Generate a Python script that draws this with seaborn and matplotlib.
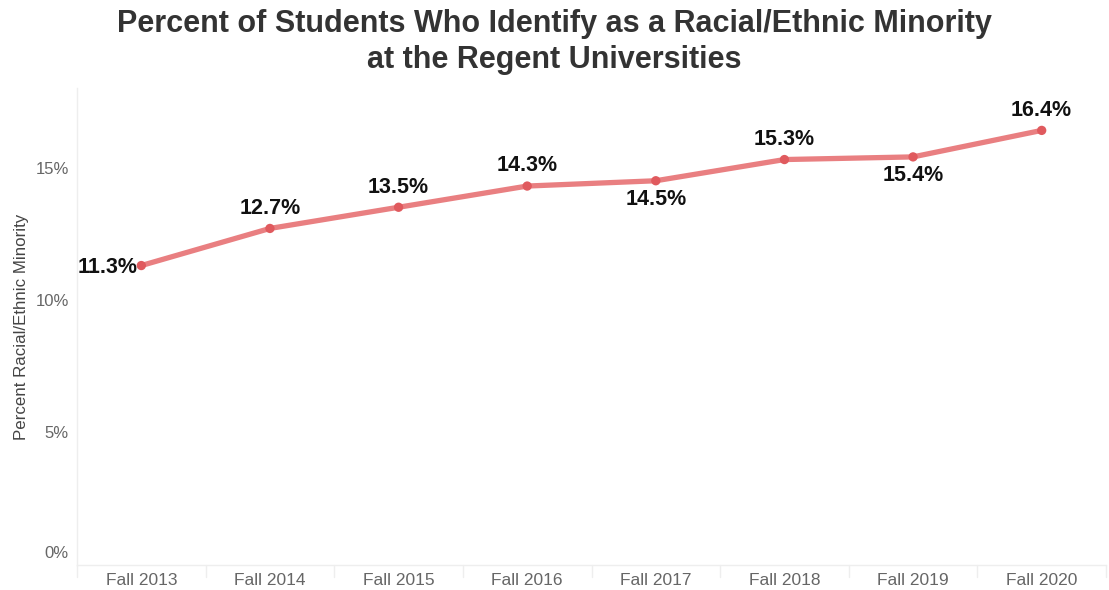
import matplotlib
matplotlib.use("Agg")
import matplotlib.pyplot as plt
import matplotlib.transforms as mtransforms
import seaborn as sns
import pandas as pd

years = ["Fall 2013", "Fall 2014", "Fall 2015", "Fall 2016", "Fall 2017", "Fall 2018", "Fall 2019", "Fall 2020"]
values = [11.3, 12.7, 13.5, 14.3, 14.5, 15.3, 15.4, 16.4]
label_pos = ["left", "above", "above", "above", "below", "above", "below", "above"]
yticks = [0, 5, 10, 15]

sns.set_theme(style="white")
plt.rcParams['font.family'] = ['Liberation Sans', 'DejaVu Sans']

df = pd.DataFrame({"year": years, "value": values})
df["x"] = range(len(years))

fig = plt.figure(figsize=(11.09, 5.90), dpi=100)
ax = fig.add_axes([77/1109, 1 - 565/590, (1106 - 77)/1109, (565 - 88)/590])

sns.lineplot(data=df, x="x", y="value", ax=ax, color="#e8787a", linewidth=3.8, alpha=0.95)
sns.scatterplot(data=df, x="x", y="value", ax=ax, color="#e05a5e", s=45, edgecolor="none", zorder=5)

for i, (v, p) in enumerate(zip(values, label_pos)):
    txt = f"{v:.1f}%"
    if p == "above":
        ax.annotate(txt, (i, v), xytext=(0, 7), textcoords="offset points", ha="center", va="bottom",
                    fontsize=15.5, fontweight="bold", color="#111111")
    elif p == "below":
        ax.annotate(txt, (i, v), xytext=(0, -6), textcoords="offset points", ha="center", va="top",
                    fontsize=15.5, fontweight="bold", color="#111111")
    else:
        ax.annotate(txt, (i, v), xytext=(-2.5, -1.5), textcoords="offset points", ha="right", va="center",
                    fontsize=15.5, fontweight="bold", color="#111111")

ax.set_xlim(-0.5, len(years) - 0.5)
ax.set_ylim(0, 18.0)
ax.set_xticks(range(len(years)))
ax.set_xticklabels(years, fontsize=12.5, color="#666666")
ax.set_yticks(yticks)
ax.set_yticklabels([f"{t}%" for t in yticks], fontsize=12, color="#666666")
ax.tick_params(axis="x", length=0, pad=6)
ax.tick_params(axis="y", length=0, pad=6)
ax.set_xlabel("")
ax.set_ylabel("Percent Racial/Ethnic Minority", fontsize=12.2, color="#444444")
ax.yaxis.set_label_coords(-0.047, 0.5)

lab0 = ax.get_yticklabels()[0]
lab0.set_transform(lab0.get_transform() + mtransforms.ScaledTranslation(0, 9/72, fig.dpi_scale_trans))

for s in ["top", "right"]:
    ax.spines[s].set_visible(False)
for s in ["left", "bottom"]:
    ax.spines[s].set_color("#eeeeee")
    ax.spines[s].set_linewidth(1)

for b in range(len(years) + 1):
    ax.plot([b - 0.5, b - 0.5], [0, -0.45], color="#eeeeee", lw=1, clip_on=False)

fig.suptitle("Percent of Students Who Identify as a Racial/Ethnic Minority\nat the Regent Universities",
             fontsize=22, fontweight="bold", color="#333333", y=0.985, linespacing=1.25)

fig.savefig("out.png", dpi=100)
